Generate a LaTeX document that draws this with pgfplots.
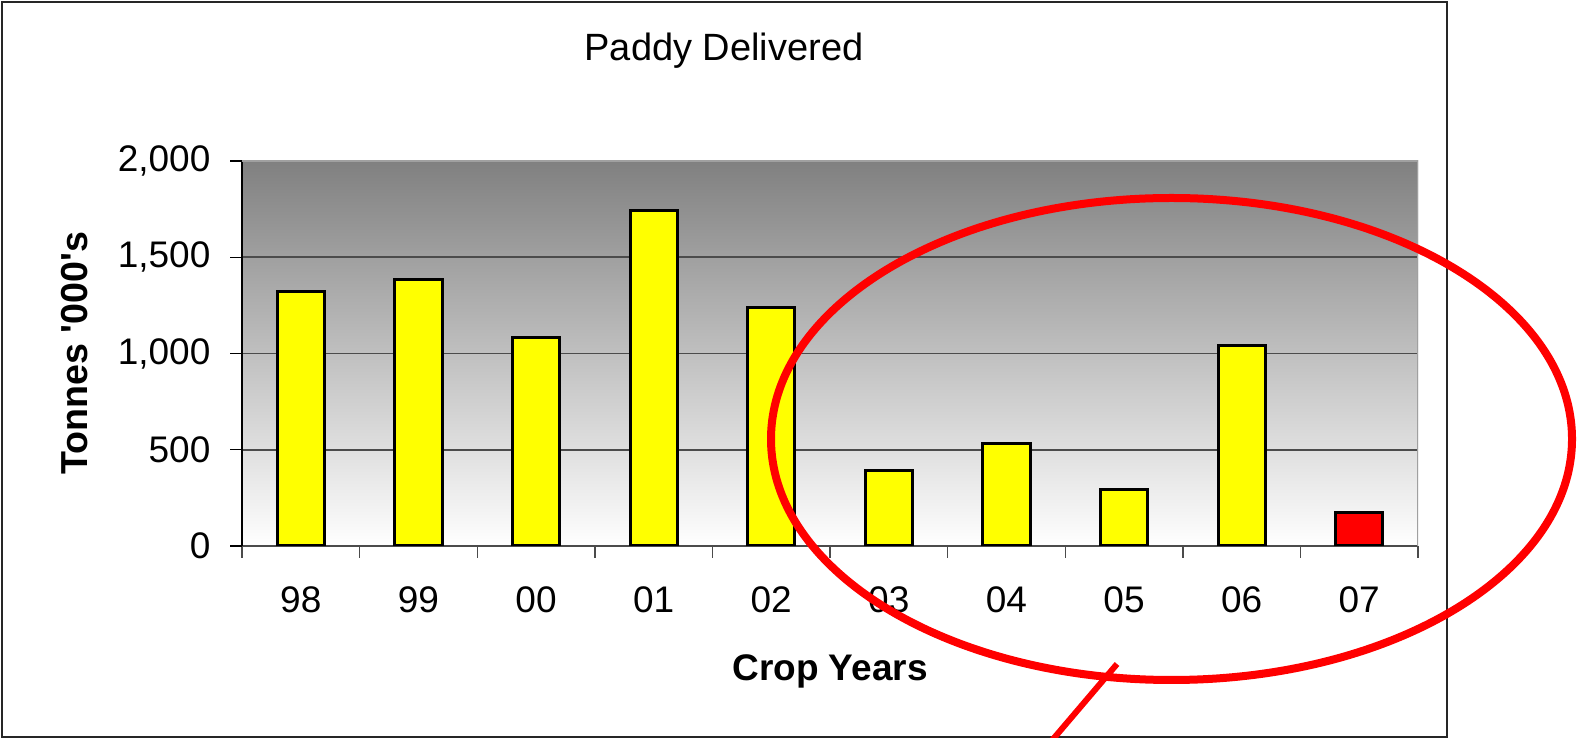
\documentclass[border=0pt]{standalone}
\usepackage{fontspec}
\setmainfont{Liberation Sans}[Ligatures=TeXOff]
\usepackage{pgfplots}
\pgfplotsset{compat=1.18}
\definecolor{bgtop}{RGB}{128,128,128}
\definecolor{gridc}{RGB}{75,75,75}
\definecolor{edgec}{RGB}{160,160,160}
\definecolor{baryellow}{RGB}{255,255,0}
\definecolor{barred}{RGB}{255,0,0}
\begin{document}
\begin{tikzpicture}
\useasboundingbox (0,0) rectangle (789pt,369pt);
\clip (0,0) rectangle (789pt,369pt);
\draw[line width=0.75pt, black!85] (1pt,368pt) rectangle (723.5pt,0.5pt);
\node[font=\fontsize{19}{21}\selectfont] at (362pt,343.5pt) {Paddy Delivered};
\begin{axis}[
  at={(121pt,96pt)}, anchor=south west,
  width=588pt, height=192.5pt, scale only axis,
  xmin=-0.5, xmax=9.5, ymin=0, ymax=2000,
  ybar, bar width=23.6pt, bar shift=0pt,
  axis background/.style={top color=bgtop, bottom color=white},
  axis x line*=bottom, axis y line*=left,
  x axis line style={-, gridc, line width=0.8pt},
  y axis line style={-, black, line width=0.8pt},
  ytick={0,500,1000,1500,2000},
  ymajorgrids, grid style={gridc, line width=0.8pt},
  tick align=outside,
  xtick={-0.5,0.5,1.5,2.5,3.5,4.5,5.5,6.5,7.5,8.5,9.5},
  x tick label as interval,
  xticklabels={98,99,00,01,02,03,04,05,06,07},
  xtick style={gridc, line width=0.7pt, /pgfplots/major tick length=6pt},
  ytick style={black, line width=0.7pt, /pgfplots/major tick length=6pt},
  /pgf/number format/assume math mode=true,
  /pgf/number format/1000 sep={,},
  ticklabel style={font=\fontsize{18.5}{20}\selectfont},
  xticklabel style={yshift=-12.5pt},
  yticklabel style={xshift=-8pt},
  xlabel={Crop Years},
  ylabel={Tonnes '000's},
  xlabel style={font=\fontsize{18.5}{20}\selectfont\bfseries, at={(axis description cs:0.5,-0.325)}, anchor=center},
  ylabel style={font=\fontsize{18.8}{20}\selectfont\bfseries, at={(axis description cs:-0.142,0.5)}, anchor=center},
]
\addplot[fill=baryellow, draw=black, line width=1.5pt] coordinates {(0,1320) (1,1383) (2,1084) (3,1745) (4,1240) (5,393) (6,534) (7,296) (8,1039)};
\addplot[fill=barred, draw=black, line width=1.5pt] coordinates {(9,172)};
\draw[edgec, line width=0.8pt] (rel axis cs:0,1) -- (rel axis cs:1,1) -- (rel axis cs:1,0);
\end{axis}
\draw[barred, line width=4pt] (585.75pt,149.5pt) ellipse [x radius=200.25pt, y radius=120.5pt];
\draw[barred, line width=3pt] (558.5pt,37pt) -- (521.9pt,-6pt);
\end{tikzpicture}
\end{document}
